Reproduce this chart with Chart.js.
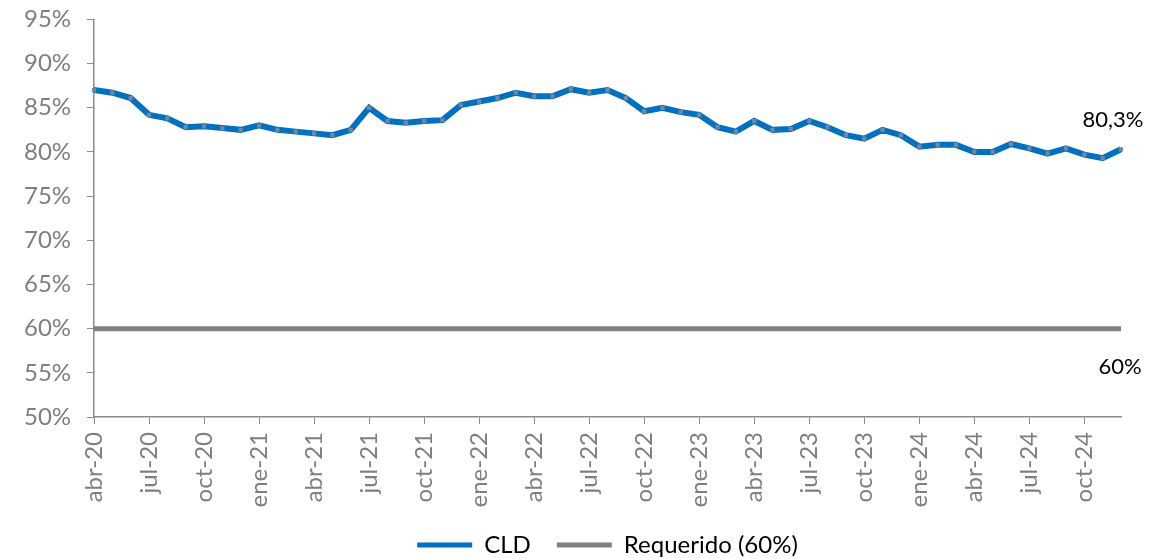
<!DOCTYPE html>
<html>
<head>
<meta charset="utf-8">
<script src="https://cdn.jsdelivr.net/npm/chart.js@4"></script>
<style>
    html, body { margin: 0; padding: 0; background: #fff; }
    #wrap { width: 1175px; height: 559px; }
</style>
</head>
<body>
<div id="wrap"><canvas id="cldChart" width="1175" height="559"></canvas></div>
<script>
// Months (abr-20 .. dic-24)
const months = [
    'abr-20', 'may-20', 'jun-20', 'jul-20', 'ago-20', 'sep-20', 'oct-20', 'nov-20', 'dic-20',
    'ene-21', 'feb-21', 'mar-21', 'abr-21', 'may-21', 'jun-21', 'jul-21', 'ago-21', 'sep-21', 'oct-21', 'nov-21', 'dic-21',
    'ene-22', 'feb-22', 'mar-22', 'abr-22', 'may-22', 'jun-22', 'jul-22', 'ago-22', 'sep-22', 'oct-22', 'nov-22', 'dic-22',
    'ene-23', 'feb-23', 'mar-23', 'abr-23', 'may-23', 'jun-23', 'jul-23', 'ago-23', 'sep-23', 'oct-23', 'nov-23', 'dic-23',
    'ene-24', 'feb-24', 'mar-24', 'abr-24', 'may-24', 'jun-24', 'jul-24', 'ago-24', 'sep-24', 'oct-24', 'nov-24', 'dic-24'
];

// CLD ratio, %
const cldValues = [
    87.0, 86.7, 86.1, 84.2, 83.8, 82.8, 82.9, 82.7, 82.5,
    83.0, 82.5, 82.3, 82.1, 81.9, 82.5, 85.0, 83.5, 83.3, 83.5, 83.6, 85.3,
    85.7, 86.1, 86.7, 86.3, 86.3, 87.1, 86.7, 87.0, 86.1, 84.6, 85.0, 84.5,
    84.2, 82.8, 82.3, 83.5, 82.5, 82.6, 83.5, 82.8, 81.9, 81.5, 82.5, 81.9,
    80.6, 80.8, 80.8, 80.0, 80.0, 80.9, 80.4, 79.8, 80.4, 79.7, 79.3, 80.3
];

// Regulatory minimum, %
const requerido = 60;

const yTicks = [50, 55, 60, 65, 70, 75, 80, 85, 90, 95];

const FONT = 'Lato, "Open Sans", sans-serif';
const AXIS_GREY = '#8c8c8c';
const TEXT_GREY = '#7f7f7f';

// End labels: last CLD value and the 60% line
const endLabels = {
    id: 'endLabels',
    afterDatasetsDraw(chart) {
        const ctx = chart.ctx;
        const last = chart.getDatasetMeta(0).data[cldValues.length - 1];
        const req = chart.getDatasetMeta(1).data[1];
        ctx.save();
        ctx.fillStyle = '#000';
        ctx.font = '22px ' + FONT;
        ctx.textAlign = 'center';
        ctx.textBaseline = 'middle';
        ctx.fillText(cldValues[cldValues.length - 1].toFixed(1).replace('.', ',') + '%', last.x - 8, last.y - 29);
        ctx.fillText(requerido + '%', req.x - 1, req.y + 38);
        ctx.restore();
    }
};

document.addEventListener('DOMContentLoaded', function () {
    const ctx = document.getElementById('cldChart').getContext('2d');

    new Chart(ctx, {
        type: 'line',
        data: {
            labels: months,
            datasets: [
                {
                    label: 'CLD',
                    data: cldValues,
                    borderColor: '#0070c0',
                    backgroundColor: '#0070c0',
                    borderWidth: 6,
                    tension: 0,
                    pointStyle: 'rect',
                    pointRadius: 3,
                    pointBorderWidth: 0,
                    pointBackgroundColor: '#76869c',
                    order: 0
                },
                {
                    label: 'Requerido (60%)',
                    data: [
                        { x: months[0], y: requerido },
                        { x: months[months.length - 1], y: requerido }
                    ],
                    borderColor: '#808080',
                    backgroundColor: '#808080',
                    borderWidth: 5,
                    pointRadius: 0,
                    order: 1
                }
            ]
        },
        options: {
            responsive: false,
            animation: false,
            layout: {
                padding: { top: 0, right: 54, left: 24, bottom: -8 }
            },
            scales: {
                x: {
                    type: 'category',
                    offset: false,
                    grid: {
                        drawOnChartArea: false,
                        drawTicks: true,
                        tickLength: 7,
                        color: AXIS_GREY
                    },
                    border: { display: true, color: AXIS_GREY, width: 1.5 },
                    ticks: {
                        autoSkip: false,
                        maxRotation: 90,
                        minRotation: 90,
                        padding: 8,
                        color: TEXT_GREY,
                        font: { family: FONT, size: 24 },
                        callback: function (val, index) {
                            return index % 3 === 0 ? this.getLabelForValue(val) : null;
                        }
                    },
                    afterFit: function (scale) {
                        scale.height = 90;
                    }
                },
                y: {
                    min: 50,
                    max: 95,
                    afterBuildTicks: function (scale) {
                        scale.ticks = yTicks.map(v => ({ value: v }));
                    },
                    grid: {
                        drawOnChartArea: false,
                        drawTicks: true,
                        tickLength: 7,
                        color: AXIS_GREY
                    },
                    border: { display: true, color: AXIS_GREY, width: 1.5 },
                    ticks: {
                        padding: 5,
                        crossAlign: 'far',
                        color: TEXT_GREY,
                        font: { family: FONT, size: 24 },
                        callback: v => v + '%'
                    },
                    afterFit: function (scale) {
                        scale.width = 70;
                    }
                }
            },
            plugins: {
                legend: {
                    position: 'bottom',
                    fullSize: false,
                    labels: {
                        boxWidth: 55,
                        boxHeight: 5,
                        padding: 26,
                        color: '#000',
                        font: { family: FONT, size: 24 },
                        generateLabels: function (chart) {
                            const items = Chart.defaults.plugins.legend.labels.generateLabels(chart);
                            return items.map(item => {
                                item.fillStyle = item.strokeStyle;
                                item.lineWidth = 0;
                                return item;
                            });
                        }
                    }
                },
                tooltip: { enabled: false }
            }
        },
        plugins: [endLabels]
    });
});
</script>
</body>
</html>
